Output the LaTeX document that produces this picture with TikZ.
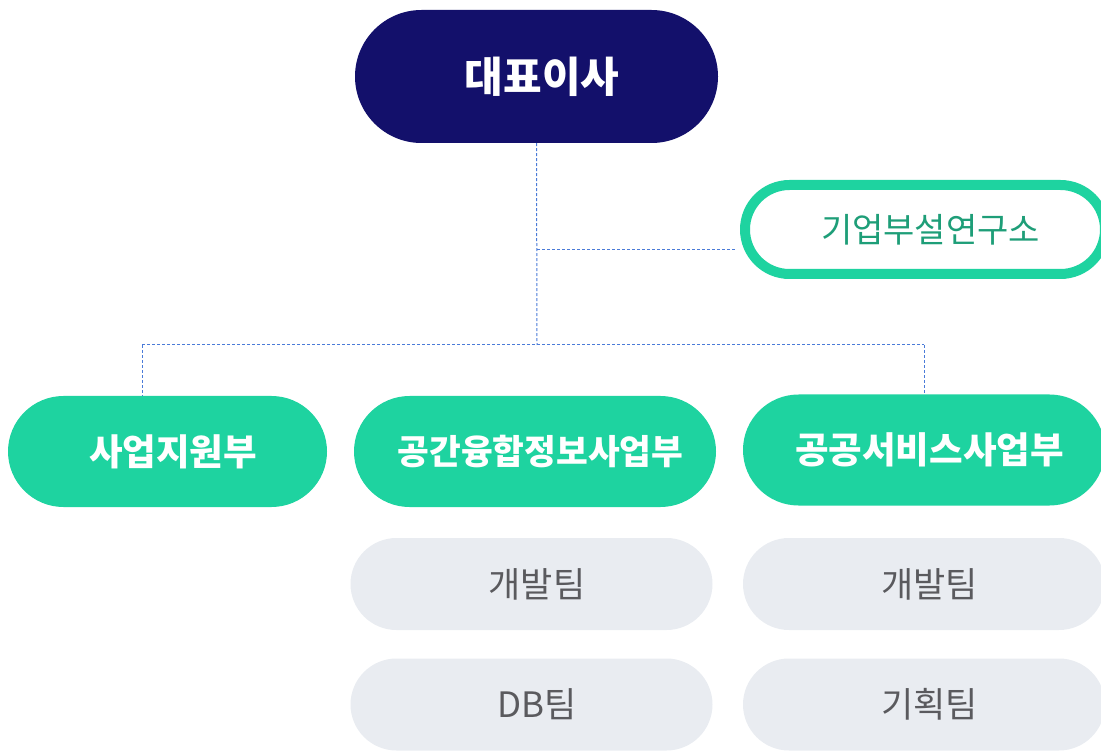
\documentclass[tikz,border=0pt]{standalone}
\usepackage{fontspec}
\newfontfamily\kr{Noto Sans CJK KR}

\definecolor{navy}{HTML}{13106B}
\definecolor{mint}{HTML}{1ED3A0}
\definecolor{labgreen}{HTML}{1E9E78}
\definecolor{mist}{HTML}{E9ECF1}
\definecolor{teamgray}{HTML}{5A5A5E}
\definecolor{linkblue}{HTML}{4A7BD8}

\tikzstyle{ceo} = [rectangle, rounded corners=66.5pt, fill=navy, text=white, minimum width=363pt, minimum height=133pt, font=\kr\bfseries\fontsize{42pt}{42pt}\selectfont, execute at begin node=\hspace*{11pt}]
\tikzstyle{lab} = [rectangle, rounded corners=44.5pt, draw=mint, line width=10pt, fill=white, text=labgreen, minimum width=360pt, minimum height=89pt, font=\kr\fontsize{34pt}{34pt}\selectfont, execute at begin node=\hspace*{11pt}]
\tikzstyle{dept} = [rectangle, rounded corners=55.5pt, fill=mint, text=white, minimum height=111pt, font=\kr\bfseries\fontsize{36.5pt}{36.5pt}\selectfont, execute at begin node=\hspace*{11pt}]
\tikzstyle{team} = [rectangle, rounded corners=46pt, fill=mist, text=teamgray, minimum width=362pt, minimum height=92pt, font=\kr\fontsize{35pt}{35pt}\selectfont, execute at begin node=\hspace*{11pt}]
\tikzstyle{link} = [draw=linkblue, line width=1pt, dash pattern=on 3pt off 2pt]

\begin{document}
\begin{tikzpicture}[x=1pt,y=-1pt]
	\useasboundingbox (0,0) rectangle (1101,751);
	\node[ceo] (ceo) at (536.5,76.5) {대표이사};
	\node[lab] (lab) at (925,229.5) {기업부설연구소};
	\node[dept, minimum width=319pt] (sup) at (167.5,451.5) {사업지원부};
	\node[dept, minimum width=362pt, font=\kr\bfseries\fontsize{34.5pt}{34.5pt}\selectfont] (geo) at (535,451.5) {공간융합정보사업부};
	\node[dept, minimum width=362pt] (pub) at (924,450) {공공서비스사업부};
	\node[team] (dev1) at (531.5,584) {개발팀};
	\node[team] (db) at (531.5,704.5) {DB팀};
	\node[team] (dev2) at (924,584) {개발팀};
	\node[team] (plan) at (924,704.5) {기획팀};
	\coordinate (labtap) at (537,250);
	\coordinate (split) at (537,345);
	\coordinate (busL) at (142,345);
	\draw[link] (ceo.south) -- (split);
	\draw[link, shorten >=5pt] (labtap) -- (lab.west |- labtap);
	\draw[link] (busL) -- (pub.north |- split);
	\draw[link] (busL) -- (busL |- sup.north);
	\draw[link] (pub.north |- split) -- (pub.north);
	\end{tikzpicture}
\end{document}
